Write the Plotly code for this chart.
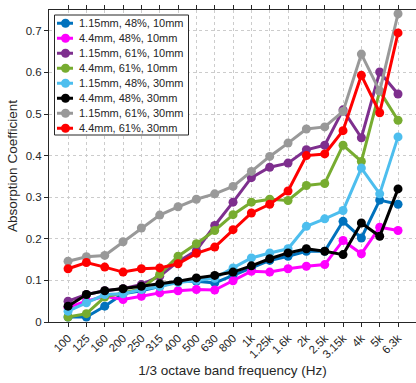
import plotly.graph_objects as go

freq_labels = ["100", "125", "160", "200", "250", "315", "400", "500", "630", "800",
               "1k", "1.25k", "1.6k", "2k", "2.5k", "3.15k", "4k", "5k", "6.3k"]

s_115_48_10 = [0.012, 0.012, 0.038, 0.068, 0.075, 0.085, 0.098, 0.098, 0.094, 0.112,
               0.130, 0.148, 0.158, 0.170, 0.170, 0.242, 0.202, 0.293, 0.283]
s_44_48_10 = [0.035, 0.050, 0.062, 0.054, 0.062, 0.070, 0.075, 0.078, 0.077, 0.099,
              0.122, 0.120, 0.128, 0.134, 0.138, 0.196, 0.164, 0.228, 0.220]
s_115_61_10 = [0.050, 0.066, 0.075, 0.080, 0.090, 0.110, 0.145, 0.172, 0.232, 0.288,
               0.347, 0.372, 0.382, 0.414, 0.425, 0.510, 0.443, 0.601, 0.548]
s_44_61_10 = [0.012, 0.020, 0.060, 0.070, 0.080, 0.115, 0.158, 0.188, 0.220, 0.258,
              0.288, 0.295, 0.292, 0.328, 0.333, 0.425, 0.386, 0.555, 0.485]
s_115_48_30 = [0.026, 0.046, 0.066, 0.068, 0.078, 0.085, 0.095, 0.100, 0.105, 0.130,
               0.154, 0.166, 0.176, 0.230, 0.248, 0.268, 0.370, 0.308, 0.445]
s_44_48_30 = [0.038, 0.066, 0.075, 0.080, 0.086, 0.092, 0.098, 0.106, 0.112, 0.120,
              0.135, 0.152, 0.166, 0.176, 0.170, 0.162, 0.238, 0.206, 0.320]
s_115_61_30 = [0.146, 0.157, 0.160, 0.193, 0.226, 0.257, 0.277, 0.295, 0.308, 0.326,
               0.362, 0.398, 0.430, 0.464, 0.469, 0.506, 0.644, 0.555, 0.741]
s_44_61_30 = [0.128, 0.143, 0.132, 0.120, 0.128, 0.130, 0.140, 0.165, 0.180, 0.222,
              0.262, 0.283, 0.315, 0.400, 0.404, 0.460, 0.593, 0.503, 0.695]

series_names = ["1.15mm, 48%, 10mm", "4.4mm, 48%, 10mm", "1.15mm, 61%, 10mm",
                "4.4mm, 61%, 10mm", "1.15mm, 48%, 30mm", "4.4mm, 48%, 30mm",
                "1.15mm, 61%, 30mm", "4.4mm, 61%, 30mm"]
series_values = [s_115_48_10, s_44_48_10, s_115_61_10, s_44_61_10,
                 s_115_48_30, s_44_48_30, s_115_61_30, s_44_61_30]
series_colors = ["#0072BD", "#FF00FF", "#7E2F8E", "#77AC30",
                 "#4DBEEE", "#000000", "#999999", "#FF0000"]

W, H = 416, 383
ML, MR, MT, MB = 49, 0, 10, 61
PW, PH = W - ML - MR, H - MT - MB


def px_x(p):
    return (p - ML) / PW


def px_y(p):
    return (H - MB - p) / PH


fig = go.Figure()
for name, vals, col in zip(series_names, series_values, series_colors):
    fig.add_trace(go.Scatter(
        x=freq_labels, y=vals, name=name, mode="lines+markers",
        line=dict(color=col, width=3),
        marker=dict(color=col, size=9, symbol="circle"),
        showlegend=False,
    ))

# Compact MATLAB-style legend box (layout decoration)
shapes = []
annotations = []
box_l, box_t, box_r, box_b = 54.5, 15, 188.5, 135
shapes.append(dict(type="rect", xref="paper", yref="paper",
                   x0=px_x(box_l), x1=px_x(box_r), y0=px_y(box_b), y1=px_y(box_t),
                   line=dict(color="#262626", width=1), fillcolor="white", layer="above"))
row_h = (box_b - box_t) / len(series_names)
for i, (name, col) in enumerate(zip(series_names, series_colors)):
    cy = box_t + row_h * (i + 0.55)
    shapes.append(dict(type="line", xref="paper", yref="paper",
                       x0=px_x(57), x1=px_x(73), y0=px_y(cy), y1=px_y(cy),
                       line=dict(color=col, width=3), layer="above"))
    shapes.append(dict(type="circle", xref="paper", yref="paper",
                       xsizemode="pixel", ysizemode="pixel",
                       xanchor=px_x(65.5), yanchor=px_y(cy),
                       x0=-4.5, x1=4.5, y0=-4.5, y1=4.5,
                       line=dict(color=col, width=0), fillcolor=col, layer="above"))
    annotations.append(dict(xref="paper", yref="paper", x=px_x(76.5), y=px_y(cy),
                            xanchor="left", yanchor="middle", showarrow=False,
                            text=name, font=dict(size=11, color="#262626")))

font_family = "Liberation Sans, Arial, sans-serif"
fig.update_layout(
    width=W, height=H,
    margin=dict(l=ML, r=MR, t=MT, b=MB),
    paper_bgcolor="white", plot_bgcolor="white",
    font=dict(family=font_family, size=11.5, color="#262626"),
    showlegend=False,
    shapes=shapes, annotations=annotations,
)
fig.update_xaxes(
    type="category", range=[-1.04, 18.98],
    showline=True, linecolor="#262626", linewidth=1, mirror="ticks",
    ticks="outside", ticklen=4, tickcolor="#262626", tickangle=-45,
    showgrid=True, gridcolor="#cccccc", griddash="dot", gridwidth=1,
    title=dict(text="1/3 octave band frequency (Hz)", font=dict(size=13.5), standoff=6),
    automargin=False, zeroline=False,
)
fig.update_yaxes(
    range=[0, 0.75], dtick=0.1, tick0=0,
    showline=True, linecolor="#262626", linewidth=1, mirror="ticks",
    ticks="outside", ticklen=4, tickcolor="#262626",
    showgrid=True, gridcolor="#cccccc", griddash="dot", gridwidth=1,
    title=dict(text="Absorption Coefficient", font=dict(size=13.5), standoff=4),
    automargin=False, zeroline=False,
)

fig.write_html("out.html")
